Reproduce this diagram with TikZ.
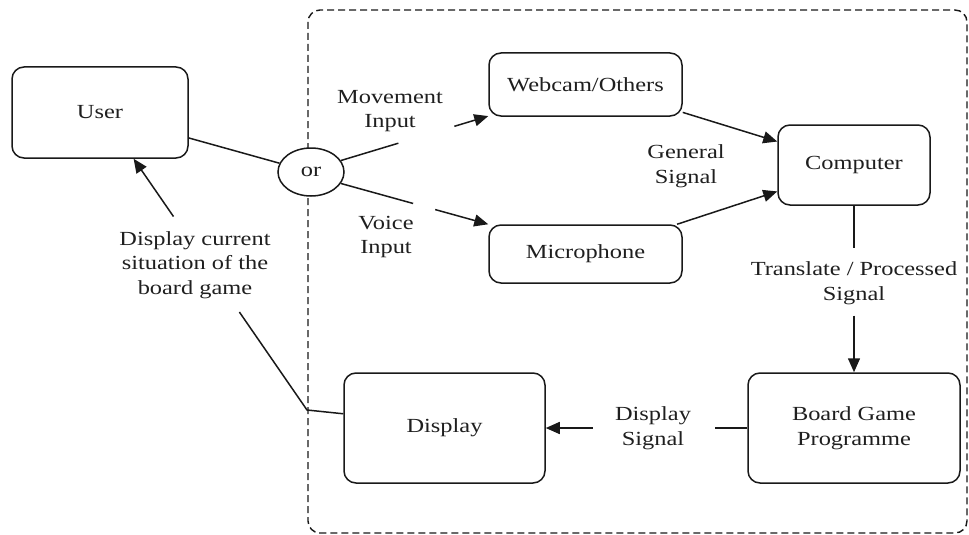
\documentclass[tikz,border=0pt]{standalone}
\usepackage{fontspec}
\setmainfont{Liberation Serif}[FakeStretch=1.22]
\usetikzlibrary{shapes.geometric,arrows.meta}
\begin{document}
\begin{tikzpicture}[x=1pt,y=-1pt,
  every node/.style={font=\fontsize{20}{24.5}\selectfont, text=black!88, align=center},
  block/.style={draw=black!90, fill=white, line width=1.5pt, rounded corners=12pt, inner sep=0pt},
  link/.style={draw=black!90, line width=1.5pt},
  arr/.style={link, -{Triangle[length=14pt,width=12pt]}},
  lbl/.style={inner sep=0pt}
]
\useasboundingbox (0,0) rectangle (969,535);

% system boundary
\draw[black!90, line width=1.4pt, dash pattern=on 7pt off 4pt, rounded corners=12pt]
  (308,10) rectangle (967,533);

% blocks
\node[block, minimum width=176pt, minimum height=91pt] (user) at (100,112.5) {User};
\node[draw=black!90, fill=white, line width=1.5pt, ellipse, minimum width=66pt, minimum height=48pt, inner sep=0pt] (or) at (311,172) {or};
\node[block, minimum width=193pt, minimum height=63pt] (web) at (585.5,84.5) {Webcam/Others};
\node[block, minimum width=193pt, minimum height=58pt] (mic) at (585.5,254) {Microphone};
\node[block, minimum width=152pt, minimum height=80pt] (comp) at (854,165) {Computer};
\node[block, minimum width=212pt, minimum height=110pt] (game) at (854,428) {Board Game\\Programme};
\node[block, minimum width=201pt, minimum height=110pt] (disp) at (444.5,428) {Display};

% edge labels
\node[lbl] (lmove) at (390,111) {Movement\\Input};
\node[lbl] (lvoice) at (386,237) {Voice\\Input};
\node[lbl] (lgen) at (686,166) {General\\Signal};
\node[lbl] (ltrans) at (854,283) {Translate / Processed\\Signal};
\node[lbl] (ldisp) at (653,428) {Display\\Signal};
\node[lbl] (lcur) at (195,265) {Display current\\situation of the\\board game};

% user to selector
\draw[link] (user.-16) -- (or);

% selector to inputs (broken where the labels sit)
\path (or.21) -- (web.198) coordinate[pos=0.39] (m1) coordinate[pos=0.77] (m2);
\draw[link] (or.21) -- (m1);
\draw[arr] (m2) -- (web.198);

\path (or.-21) -- (mic.163.7) coordinate[pos=0.49] (v1) coordinate[pos=0.64] (v2);
\draw[link] (or.-21) -- (v1);
\draw[arr] (v2) -- (mic.163.7);

% inputs to computer
\draw[arr] (web.-16.7) -- (comp.163.1);
\draw[arr] (mic.18.5) -- (comp.199.5);

% computer to board game programme
\path (comp.south) -- (game.north) coordinate[pos=0.256] (t1) coordinate[pos=0.66] (t2);
\draw[link] (comp.south) -- (t1);
\draw[arr] (t2) -- (game.north);

% board game programme to display
\path (game.west) -- (disp.east) coordinate[pos=0.158] (d1) coordinate[pos=0.768] (d2);
\draw[link] (game.west) -- (d1);
\draw[arr] (d2) -- (disp.east);

% display back to user
\coordinate (bend) at (307,410);
\path (bend) -- (user.-54) coordinate[pos=0.39] (u1) coordinate[pos=0.77] (u2);
\draw[link] (disp.172.6) -- (bend) -- (u1);
\draw[arr] (u2) -- (user.-54);
\end{tikzpicture}
\end{document}
